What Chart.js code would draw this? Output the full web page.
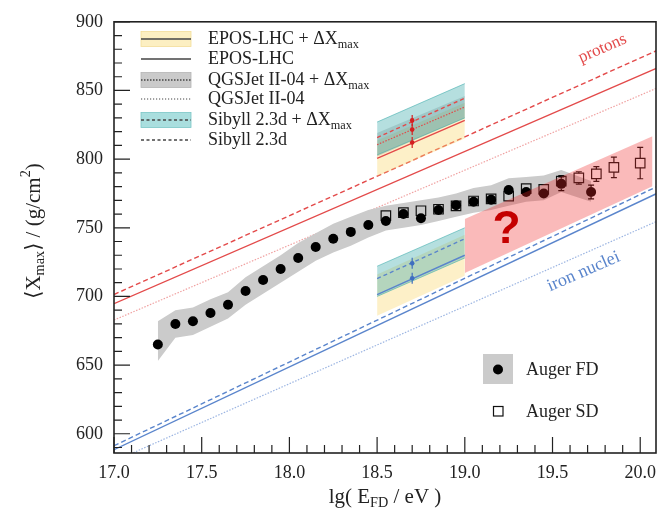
<!DOCTYPE html>
<html>
<head>
<meta charset="utf-8">
<script src="https://cdn.jsdelivr.net/npm/chart.js@4.4.1/dist/chart.umd.min.js"></script>
<style>
  html, body { margin: 0; padding: 0; background: #fff; }
  canvas { display: block; }
</style>
</head>
<body>
<canvas id="xmaxChart" width="671" height="521" style="width:671px;height:521px"></canvas>
<script>
// --- AXES ---
const xRange = [17.0, 20.09];
const yRange = [586, 900];
const xTickValues = [17.0, 17.5, 18.0, 18.5, 19.0, 19.5, 20.0];
const yTickValues = [600, 650, 700, 750, 800, 850, 900];

// --- MODEL PREDICTIONS (value at lg E = 17.0 and 20.1) ---
const modelE = [17.0, 20.1];
const eposP = [694.7, 866.5];
const sibyllP = [701.4, 879.4];
const qgsjetP = [682.8, 852.0];
const eposFe = [588.4, 775.3];
const sibyllFe = [591.3, 780.3];
const qgsjetFe = [580.0, 755.0];

// --- MODELS + DELTA Xmax, shown between lg E = 18.5 and 19.0 ---
const boxE = [18.5, 19.0];
const eposPShift = [800.6, 828.2];
const qgsjetPShift = [810.5, 838.0];
const sibyllPShift = [815.7, 844.4];
const eposPBandLo = [787.5, 815.0], eposPBandHi = [813.6, 841.0];
const qgsjetPBandLo = [802.0, 830.0], qgsjetPBandHi = [819.0, 846.0];
const sibyllPBandLo = [803.0, 830.0], sibyllPBandHi = [827.0, 855.0];
const eposFeShift = [701.3, 730.0];
const sibyllFeShift = [713.0, 742.0];
const eposFeBandLo = [686.0, 715.0], eposFeBandHi = [716.0, 745.0];
const sibyllFeBandLo = [700.0, 728.0], sibyllFeBandHi = [722.0, 750.0];
const markE = 18.7;
const markP = [828.2, 821.5, 812.1];
const markFe = [724.1, 713.3];
const markErr = 4;

// --- AUGER FD ---
const fdE = [17.25, 17.35, 17.45, 17.55, 17.65, 17.75, 17.85, 17.95, 18.05, 18.15, 18.25, 18.35, 18.45,
             18.55, 18.65, 18.75, 18.85, 18.95, 19.05, 19.15, 19.25, 19.35, 19.45, 19.55, 19.72];
const fdXmax = [665, 680, 682, 688, 694, 704, 712, 720, 728, 736, 742, 747, 752,
                755, 760, 757, 763, 766.5, 769, 770.5, 777.5, 776, 775, 782, 776];
const fdErr = [3, 2, 2, 2, 2, 2, 2, 2, 2, 2, 2, 2, 2, 2, 2, 2, 2, 2, 2, 2.5, 2.5, 3, 3, 5, 5];
const fdSysHi = [682, 690, 692, 698, 703, 714, 722, 730, 739, 746, 753, 758, 763,
                 766, 768, 770, 772, 775, 779, 781, 786, 787, 788, 792, 784];
const fdSysLo = [653, 670, 672, 678, 684, 694, 702, 710, 718, 726, 732, 737, 743,
                 748, 750, 752, 755, 758, 761, 763, 766, 769, 770, 776, 769];

// --- AUGER SD ---
const sdE = [18.55, 18.65, 18.75, 18.85, 18.95, 19.05, 19.15, 19.25, 19.35, 19.45, 19.55, 19.65, 19.75, 19.85, 20.0];
const sdXmax = [758.8, 761, 762.4, 763.5, 766, 769.5, 771, 773, 778.5, 778, 784, 786.3, 789.2, 794, 797.1];
const sdErr = [1.5, 1.5, 1.5, 1.5, 1.5, 1.5, 2, 2, 2.5, 3, 4, 4.5, 5.4, 7.4, 11.4];

// --- "?" REGION ---
const pinkE = [19.0, 20.07];
const pinkLo = [717.0, 780.3];
const pinkHi = [756.4, 816.7];

const RED = '#e34a4a', RED_DOT = '#f0a2a2';
const BLUE = '#5a85cc', BLUE_DOT = '#9cb5e2';
const SERIF = '"Liberation Serif", "DejaVu Serif", serif';

// --- DATASET HELPERS ---
const datasets = [];
function pts(xs, ys) { return xs.map((x, i) => ({ x: x, y: ys[i] })); }
function addLine(xs, ys, color, dash, width, order) {
  datasets.push({ type: 'line', data: pts(xs, ys), borderColor: color, borderDash: dash, borderWidth: width,
                  pointRadius: 0, fill: false, order: order });
}
function addBand(xs, lo, hi, fillColor, edgeColor, order) {
  datasets.push({ type: 'line', data: pts(xs, hi), borderColor: edgeColor || 'transparent', borderWidth: edgeColor ? 0.8 : 0,
                  backgroundColor: fillColor, pointRadius: 0, fill: '+1', order: order });
  datasets.push({ type: 'line', data: pts(xs, lo), borderColor: edgeColor || 'transparent', borderWidth: edgeColor ? 0.8 : 0,
                  pointRadius: 0, fill: false, order: order });
}

// model lines (background)
addLine(modelE, eposP, RED, [], 1.4, 100);
addLine(modelE, sibyllP, RED, [5, 3], 1.4, 100);
addLine(modelE, qgsjetP, RED_DOT, [1.5, 1.5], 1.2, 100);
addLine(modelE, eposFe, BLUE, [], 1.4, 100);
addLine(modelE, sibyllFe, BLUE, [5, 3], 1.4, 100);
addLine(modelE, qgsjetFe, BLUE_DOT, [1.5, 1.5], 1.2, 100);

// shifted model boxes
addBand(boxE, eposPBandLo, eposPBandHi, 'rgba(250,215,110,0.38)', null, 90);
addBand(boxE, qgsjetPBandLo, qgsjetPBandHi, 'rgba(130,130,130,0.30)', null, 89);
addBand(boxE, sibyllPBandLo, sibyllPBandHi, 'rgba(60,170,170,0.38)', 'rgba(60,170,170,0.7)', 88);
addBand(boxE, eposFeBandLo, eposFeBandHi, 'rgba(250,215,110,0.38)', null, 90);
addBand(boxE, sibyllFeBandLo, sibyllFeBandHi, 'rgba(60,170,170,0.38)', 'rgba(60,170,170,0.7)', 88);
addLine(boxE, eposPShift, RED, [], 1.4, 85);
addLine(boxE, qgsjetPShift, RED, [1.5, 1.5], 1.2, 85);
addLine(boxE, sibyllPShift, RED, [4, 3], 1.4, 85);
addLine(boxE, eposFeShift, BLUE, [], 1.4, 85);
addLine(boxE, sibyllFeShift, BLUE, [4, 3], 1.4, 85);
datasets.push({ type: 'scatter', data: markP.map(v => ({ x: markE, y: v })), pointRadius: 2.3, pointBorderWidth: 0,
                backgroundColor: '#d42020', errors: markP.map(() => markErr), errColor: '#d42020', errGap: 0, order: 84 });
datasets.push({ type: 'scatter', data: markFe.map(v => ({ x: markE, y: v })), pointRadius: 2.3, pointBorderWidth: 0,
                backgroundColor: '#3f6fc0', errors: markFe.map(() => markErr), errColor: '#3f6fc0', errGap: 0, order: 84 });

// FD systematic band
addBand(fdE, fdSysLo, fdSysHi, '#cbcbcb', null, 70);

// SD squares
datasets.push({ type: 'scatter', data: pts(sdE, sdXmax), pointStyle: 'rect', pointRadius: 6.7, borderWidth: 1.2,
                borderColor: '#111', backgroundColor: 'rgba(0,0,0,0)', errors: sdErr, errColor: '#111', errGap: 4.75, order: 60 });
// FD circles
datasets.push({ type: 'scatter', data: pts(fdE, fdXmax), pointStyle: 'circle', pointRadius: 5, borderWidth: 0,
                backgroundColor: '#000', errors: fdErr, errColor: '#000', errGap: 5, order: 50 });

// pink "?" region on top
addBand(pinkE, pinkLo, pinkHi, 'rgba(240,40,40,0.32)', null, 10);

// --- PLUGINS ---
const errorBars = {
  id: 'errorBars',
  afterDatasetDraw(chart, args) {
    const ds = chart.data.datasets[args.index];
    if (!ds.errors) return;
    const { ctx, chartArea: a } = chart;
    const ys = chart.scales.y;
    ctx.save();
    ctx.beginPath(); ctx.rect(a.left, a.top, a.right - a.left, a.bottom - a.top); ctx.clip();
    ctx.strokeStyle = ds.errColor; ctx.lineWidth = 1.2;
    args.meta.data.forEach((pt, i) => {
      const v = ds.data[i].y, e = ds.errors[i], gap = ds.errGap;
      const top = ys.getPixelForValue(v + e), bot = ys.getPixelForValue(v - e);
      ctx.beginPath();
      if (pt.y - top > gap) {
        ctx.moveTo(pt.x, top); ctx.lineTo(pt.x, pt.y - gap);
        if (gap > 0) { ctx.moveTo(pt.x - 3, top); ctx.lineTo(pt.x + 3, top); }
      }
      if (bot - pt.y > gap) {
        ctx.moveTo(pt.x, pt.y + gap); ctx.lineTo(pt.x, bot);
        if (gap > 0) { ctx.moveTo(pt.x - 3, bot); ctx.lineTo(pt.x + 3, bot); }
      }
      ctx.stroke();
    });
    ctx.restore();
  }
};

const frameTicks = {
  id: 'frameTicks',
  afterDraw(chart) {
    const { ctx, chartArea: a, scales: { x, y } } = chart;
    ctx.save();
    ctx.strokeStyle = '#222'; ctx.lineWidth = 1.2;
    ctx.beginPath();
    for (let k = 0; k <= 30; k++) {           // x ticks every 0.1
      const px = x.getPixelForValue(17.0 + k * 0.1);
      const len = (k % 5 === 0) ? 16 : 8;
      ctx.moveTo(px, a.bottom); ctx.lineTo(px, a.bottom - len);
    }
    for (let k = 0; k <= 31; k++) {           // y ticks every 10
      const v = 590 + k * 10;
      if (v < yRange[0] || v > yRange[1]) continue;
      const py = y.getPixelForValue(v);
      const len = (v % 50 === 0) ? 16 : 8;
      ctx.moveTo(a.left, py); ctx.lineTo(a.left + len, py);
    }
    ctx.stroke();
    ctx.lineWidth = 1.6;
    ctx.strokeRect(a.left, a.top, a.right - a.left, a.bottom - a.top);
    ctx.restore();
  }
};

function richWidth(ctx, parts, size) {
  let w = 0;
  parts.forEach(p => { ctx.font = ((p.sub || p.sup) ? size * 0.68 : size) + 'px ' + SERIF; w += ctx.measureText(p.t).width; });
  return w;
}
function drawRich(ctx, parts, x, y, size, align) {
  let cx = align === 'center' ? x - richWidth(ctx, parts, size) / 2 : x;
  ctx.textBaseline = 'middle'; ctx.textAlign = 'left';
  parts.forEach(p => {
    const s = (p.sub || p.sup) ? size * 0.68 : size;
    ctx.font = s + 'px ' + SERIF;
    const dy = p.sub ? size * 0.3 : (p.sup ? -size * 0.38 : 0);
    ctx.fillText(p.t, cx, y + dy);
    cx += ctx.measureText(p.t).width;
  });
}

const legendItems = [
  { label: [{ t: 'EPOS-LHC + ΔX' }, { t: 'max', sub: true }], band: '#fcefc2', dash: [] },
  { label: [{ t: 'EPOS-LHC' }], band: null, dash: [] },
  { label: [{ t: 'QGSJet II-04 + ΔX' }, { t: 'max', sub: true }], band: '#cacaca', dash: [1.5, 1.5] },
  { label: [{ t: 'QGSJet II-04' }], band: null, dash: [1.2, 1.8] },
  { label: [{ t: 'Sibyll 2.3d + ΔX' }, { t: 'max', sub: true }], band: '#a9dede', dash: [3, 2.5] },
  { label: [{ t: 'Sibyll 2.3d' }], band: null, dash: [3, 2.5] }
];
const legendRows = [39, 59, 80, 99, 120, 140];

const annotations = {
  id: 'annotations',
  afterDraw(chart) {
    const { ctx, scales: { x, y } } = chart;
    ctx.save();
    ctx.fillStyle = '#222';
    // legend (models)
    legendItems.forEach((it, i) => {
      const cy = legendRows[i];
      if (it.band) {
        ctx.fillStyle = it.band; ctx.fillRect(141, cy - 7.5, 50, 15);
        ctx.strokeStyle = it.band === '#a9dede' ? '#7cc6c6' : (it.band === '#fcefc2' ? '#f3de9a' : '#b5b5b5');
        ctx.lineWidth = 0.8; ctx.strokeRect(141, cy - 7.5, 50, 15);
      }
      ctx.strokeStyle = '#444'; ctx.lineWidth = (i === 3) ? 1 : 1.4; ctx.setLineDash(it.dash);
      ctx.beginPath(); ctx.moveTo(141, cy); ctx.lineTo(191, cy); ctx.stroke(); ctx.setLineDash([]);
      ctx.fillStyle = '#222';
      drawRich(ctx, it.label, 208, cy, 18, 'left');
    });
    // legend (data)
    ctx.fillStyle = '#cbcbcb'; ctx.fillRect(483, 354, 30, 30);
    ctx.fillStyle = '#000'; ctx.beginPath(); ctx.arc(498, 369.5, 5, 0, Math.PI * 2); ctx.fill();
    ctx.strokeStyle = '#111'; ctx.lineWidth = 1.2; ctx.strokeRect(493.5, 406.5, 9.5, 9.5);
    ctx.fillStyle = '#222';
    drawRich(ctx, [{ t: 'Auger FD' }], 526, 370, 18, 'left');
    drawRich(ctx, [{ t: 'Auger SD' }], 526, 412, 18, 'left');
    // axis titles
    drawRich(ctx, [{ t: 'lg( E' }, { t: 'FD', sub: true }, { t: ' / eV )' }], 385, 497, 21, 'center');
    ctx.save(); ctx.translate(34, 231); ctx.rotate(-Math.PI / 2);
    drawRich(ctx, [{ t: '⟨X' }, { t: 'max', sub: true }, { t: '⟩ / (g/cm' }, { t: '2', sup: true }, { t: ')' }], 0, 0, 21, 'center');
    ctx.restore();
    // in-plot labels
    const ang = -23.5 * Math.PI / 180;
    ctx.save(); ctx.translate(x.getPixelForValue(19.785), y.getPixelForValue(880.6)); ctx.rotate(ang);
    ctx.fillStyle = RED; drawRich(ctx, [{ t: 'protons' }], 0, 0, 17, 'center'); ctx.restore();
    ctx.save(); ctx.translate(x.getPixelForValue(19.677), y.getPixelForValue(718)); ctx.rotate(ang);
    ctx.fillStyle = BLUE; drawRich(ctx, [{ t: 'iron nuclei' }], 0, 0, 18, 'center'); ctx.restore();
    ctx.fillStyle = '#c40000'; ctx.font = 'bold 46px "Liberation Sans", Arial, sans-serif';
    ctx.textAlign = 'center'; ctx.textBaseline = 'middle';
    ctx.fillText('?', x.getPixelForValue(19.238), y.getPixelForValue(748.2));
    ctx.restore();
  }
};

// --- BUILD CHART ---
new Chart(document.getElementById('xmaxChart'), {
  type: 'scatter',
  data: { datasets: datasets },
  options: {
    responsive: false, devicePixelRatio: 1, animation: false,
    layout: { padding: { top: 13, right: 15, left: 0, bottom: 0 } },
    plugins: { legend: { display: false }, tooltip: { enabled: false } },
    scales: {
      x: {
        type: 'linear', min: xRange[0], max: xRange[1],
        afterBuildTicks: s => { s.ticks = xTickValues.map(v => ({ value: v })); },
        afterFit: s => { s.height = 68; },
        grid: { display: false, drawTicks: false }, border: { display: false },
        ticks: { callback: v => Number(v).toFixed(1), color: '#222', padding: 9, maxRotation: 0, autoSkip: false,
                 font: { family: SERIF, size: 18 } }
      },
      y: {
        type: 'linear', min: yRange[0], max: yRange[1],
        afterBuildTicks: s => { s.ticks = yTickValues.map(v => ({ value: v })); },
        afterFit: s => { s.width = 114; },
        grid: { display: false, drawTicks: false }, border: { display: false },
        ticks: { color: '#222', padding: 11, autoSkip: false, font: { family: SERIF, size: 18 } }
      }
    }
  },
  plugins: [errorBars, frameTicks, annotations]
});
</script>
</body>
</html>
